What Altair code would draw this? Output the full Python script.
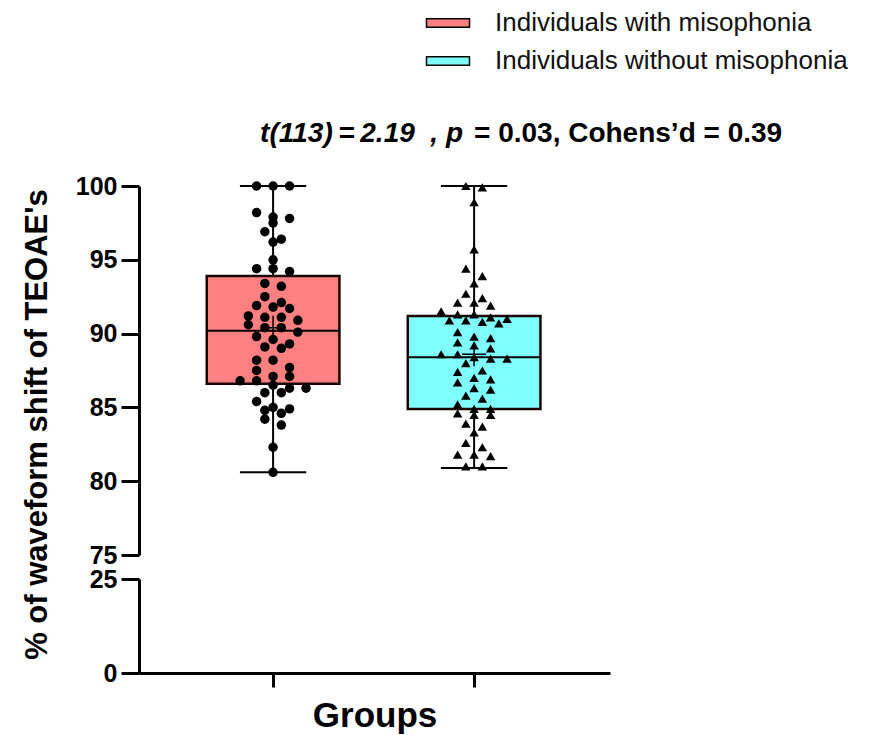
import altair as alt
import pandas as pd

# ---------------- data ----------------
groups = ["Individuals with misophonia", "Individuals without misophonia"]
group_pos = [1, 2]

with_misophonia = [100, 100, 100, 98.2, 97.9, 97.8, 97.5, 96.9, 96.4, 96.2, 95.0,
                   94.4, 94.4, 94.2, 93.4, 93.2, 92.5, 92.1, 91.9, 91.8, 91.7,
                   91.2, 91.1, 91.1, 90.9, 90.6, 90.4, 90.4, 90.1, 89.8, 89.6,
                   89.3, 89.1, 89.0, 88.2, 88.2, 87.7, 87.5, 87.1, 87.1, 86.8,
                   86.8, 86.5, 86.3, 86.3, 86.0, 86.0, 85.4, 85.0, 84.9, 84.8,
                   84.6, 84.2, 83.8, 82.3, 80.6]

without_misophonia = [100, 99.9, 98.9, 95.7, 94.4, 93.9, 93.4, 92.7, 92.4, 92.1,
                      92.1, 91.9, 91.5, 91.3, 91.3, 91.1, 91.0, 90.9, 90.9, 90.8,
                      90.7, 90.1, 89.8, 89.7, 89.4, 89.2, 89.0, 88.6, 88.6, 88.4,
                      88.3, 88.3, 88.0, 87.5, 87.4, 87.0, 86.9, 86.7, 86.3, 86.2,
                      85.8, 85.6, 85.2, 84.9, 84.9, 84.6, 84.5, 84.5, 83.9, 83.7,
                      83.3, 82.6, 82.3, 81.8, 81.8, 81.7, 81.0, 81.0]

box_min = [80.6, 80.9]
box_q1 = [86.6, 84.9]
box_median = [90.2, 88.4]
box_q3 = [93.9, 91.2]
box_max = [100.0, 100.0]
box_mean = [90.4, 88.6]

fill_colors = ["#FF8080", "#80FFFF"]
point_shapes = ["circle", "triangle-up"]

y_ticks_top = [75, 80, 85, 90, 95, 100]
y_ticks_bottom = [0, 25]

NB = "\u00a0"
TH = "\u2009"
title_italic = f"t(113){TH}={TH}2.19{NB}{NB}, p"
title_plain = f"={NB}0.03, Cohens\u2019d{NB}={NB}0.39"

# ---------------- layout helpers ----------------
HALF_BOX = 0.33
HALF_CAP = 0.165
SWARM_STEP = 0.082
BIN_H = 0.55
FONT = "Liberation Sans"


def swarm(vals):
    """Prism-like column scatter: bin close values, spread each bin symmetrically."""
    order = sorted(range(len(vals)), key=lambda i: -vals[i])
    offs = [0.0] * len(vals)
    bins, cur = [], []
    for i in order:
        if cur and vals[cur[0]] - vals[i] > BIN_H:
            bins.append(cur)
            cur = []
        cur.append(i)
    if cur:
        bins.append(cur)
    for b in bins:
        n = len(b)
        for k, i in enumerate(b):
            offs[i] = (k - (n - 1) / 2) * SWARM_STEP
    return offs


def swarm_frame(vals, pos):
    return pd.DataFrame({"value": vals, "xp": [pos + o for o in swarm(vals)]})


pts_with = swarm_frame(with_misophonia, group_pos[0])
pts_without = swarm_frame(without_misophonia, group_pos[1])

box = pd.DataFrame({
    "group": groups, "pos": group_pos, "lo": box_min, "q1": box_q1,
    "median": box_median, "q3": box_q3, "hi": box_max, "mean": box_mean,
})
box["left"] = box["pos"] - HALF_BOX
box["right"] = box["pos"] + HALF_BOX
box["capL"] = box["pos"] - HALF_CAP
box["capR"] = box["pos"] + HALF_CAP

xscale = alt.Scale(domain=[0.333, 2.676], nice=False, zero=False)
yscale_top = alt.Scale(domain=[75, 100], nice=False, zero=False)
yscale_bot = alt.Scale(domain=[0, 25], nice=False, zero=False)

X = lambda f: alt.X(f, type="quantitative", scale=xscale, axis=None)
Ytop = lambda f: alt.Y(f, type="quantitative", scale=yscale_top,
                       axis=alt.Axis(values=y_ticks_top,
                                     title="% of waveform shift of TEOAE's",
                                     titleFontSize=31, titleFontWeight="bold",
                                     titleY=238, titlePadding=22, titleColor="black"))

base = alt.Chart(box)

wh_lo = base.mark_rule(color="black", strokeWidth=2).encode(
    x=X("pos"), y=Ytop("lo"), y2="q1")
wh_hi = base.mark_rule(color="black", strokeWidth=2).encode(
    x=X("pos"), y=Ytop("q3"), y2="hi")
cap_lo = base.mark_rule(color="black", strokeWidth=2).encode(
    x=X("capL"), x2="capR", y=Ytop("lo"))
cap_hi = base.mark_rule(color="black", strokeWidth=2).encode(
    x=X("capL"), x2="capR", y=Ytop("hi"))

boxes = base.mark_bar(stroke="#1a0505", strokeWidth=2.5, opacity=1).encode(
    x=X("left"), x2="right", y=Ytop("q1"), y2="q3",
    color=alt.Color("group:N", scale=alt.Scale(domain=groups, range=fill_colors),
                    legend=alt.Legend(
                        title=None, orient="none", legendX=296, legendY=-176,
                        symbolType="M-2,-0.4L2,-0.4L2,0.4L-2,0.4Z",
                        symbolSize=462, symbolStrokeColor="black",
                        symbolStrokeWidth=1.5, symbolOpacity=1,
                        labelFontSize=26, labelFont=FONT, labelColor="#111111",
                        labelOffset=34, rowPadding=12, padding=0,
                        labelLimit=600)))

medians = base.mark_rule(color="black", strokeWidth=2).encode(
    x=X("left"), x2="right", y=Ytop("median"))

means = base.mark_point(shape="M-1,0L1,0M0,-1L0,1", size=576, filled=False,
                        color="black", strokeWidth=1.5, opacity=1).encode(
    x=X("pos"), y=Ytop("mean"))

dots_with = alt.Chart(pts_with).mark_point(
    filled=True, opacity=1, size=90, color="black", shape=point_shapes[0]
).encode(x=X("xp"), y=Ytop("value"))
dots_without = alt.Chart(pts_without).mark_point(
    filled=True, opacity=1, size=90, color="black", shape=point_shapes[1]
).encode(x=X("xp"), y=Ytop("value"))

tdata = pd.DataFrame({"k": [0]})
t1 = alt.Chart(tdata).mark_text(text=title_italic, font=FONT, fontSize=28,
                                fontWeight="bold", fontStyle="italic",
                                align="right", baseline="alphabetic",
                                color="black").encode(
    x=alt.value(324), y=alt.value(-44))
t2 = alt.Chart(tdata).mark_text(text=title_plain, font=FONT, fontSize=28,
                                fontWeight="bold", align="left",
                                baseline="alphabetic", color="black").encode(
    x=alt.value(335), y=alt.value(-44))

top = alt.layer(wh_lo, wh_hi, cap_lo, cap_hi, boxes, medians, means,
                dots_with, dots_without, t1, t2).properties(width=471, height=369)

bottom = alt.Chart(box).mark_rule(opacity=0, clip=True).encode(
    x=alt.X("pos:Q", scale=xscale,
            axis=alt.Axis(values=group_pos, labels=False, tickSize=14,
                          title="Groups", titleFontSize=35, titleFontWeight="bold",
                          titlePadding=10, titleColor="black")),
    y=alt.Y("lo:Q", scale=yscale_bot,
            axis=alt.Axis(values=y_ticks_bottom, title=None)),
).properties(width=471, height=94)

chart = alt.vconcat(top, bottom, spacing=24, bounds="flush").resolve_scale(
    y="independent"
).properties(
    padding={"left": 21, "top": 10, "right": 5, "bottom": 2}
).configure(font=FONT, background="white").configure_view(
    stroke=None
).configure_axis(
    domainColor="black", domainWidth=3, tickColor="black", tickWidth=3,
    tickSize=18, labelFontSize=25, labelFontWeight="bold", labelColor="black",
    labelFont=FONT, titleFont=FONT, labelPadding=4, grid=False,
)

chart.save("out.html", embed_options={"renderer": "svg", "actions": False})
